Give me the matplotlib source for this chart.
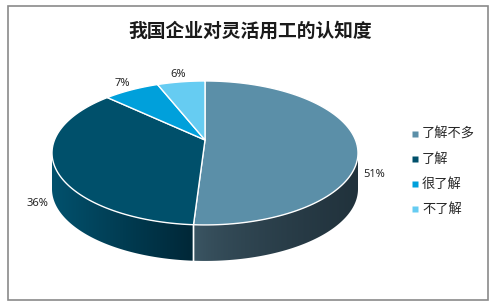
import numpy as np
import matplotlib.pyplot as plt
from matplotlib.patches import Polygon, Rectangle
from matplotlib.colors import to_rgb

plt.rcParams['font.family'] = ['Noto Sans CJK SC', 'DejaVu Sans']

title = '我国企业对灵活用工的认知度'
labels = ['了解不多', '了解', '很了解', '不了解']
values = [51, 36, 7, 6]
pct_text = ['51%', '36%', '7%', '6%']

top_colors = ['#5b8fa8', '#00506b', '#00a0db', '#66ccf2']
side_colors = [('#3d5866', '#21323c'), ('#02516d', '#002737'),
               ('#007aa8', '#005a7c'), ('#4aa6c8', '#3a88a8')]

# pie geometry in pixel space (3d look with a bit of perspective)
cx, cy = 205, 140
A, B, k = 150.5, 69.65, 0.18
depth = 36


def proj(phi, r=1.0):
    # phi: degrees clockwise from 12 o'clock
    u = r * np.sin(np.radians(phi))
    v = -r * np.cos(np.radians(phi))
    d = 1 - k * v / r
    return cx + A * u / d, cy + B * v / d


fig = plt.figure(figsize=(5.01, 3.06), dpi=100)
ax = fig.add_axes([0, 0, 1, 1])
ax.set_xlim(0, 501)
ax.set_ylim(306, 0)
ax.axis('off')

total = float(sum(values))
starts = np.cumsum([0] + values[:-1]) / total * 360
ends = np.cumsum(values) / total * 360

phi_r = np.degrees(np.arccos(-k))          # right tangent point
phi_l = 360 - phi_r                        # left tangent point

# sides (only the front part is visible), shaded with a horizontal gradient
for i in range(len(values)):
    a0, a1 = max(starts[i], phi_r), min(ends[i], phi_l)
    if a1 <= a0:
        continue
    ph = np.linspace(a0, a1, 200)
    top = [proj(p) for p in ph]
    bot = [(x, y + depth) for x, y in top[::-1]]
    poly = Polygon(top + bot, closed=True, fc='none', ec='none')
    ax.add_patch(poly)
    xs = [p[0] for p in top]
    ys = [p[1] for p in top]
    xmin, xmax = min(xs), max(xs)
    t = np.linspace(0, 1, 256)
    if i == 0:
        t = t ** 0.6
    c0, c1 = np.array(to_rgb(side_colors[i][0])), np.array(to_rgb(side_colors[i][1]))
    grad = (c0[None, :] + (c1 - c0)[None, :] * t[:, None])[None, :, :]
    im = ax.imshow(grad, extent=(xmin, xmax, max(ys) + depth + 1, min(ys) - 1),
                   aspect='auto', interpolation='bilinear', zorder=1)
    im.set_clip_path(poly)
    # white boundary line on the side
    for p in (a0, a1):
        if phi_r + 0.5 < p < phi_l - 0.5:
            x, y = proj(p)
            ax.plot([x, x], [y, y + depth], color='white', lw=1, zorder=2)

ax.set_xlim(0, 501)
ax.set_ylim(306, 0)

# top face
for i in range(len(values)):
    ph = np.linspace(starts[i], ends[i], 120)
    pts = [(cx, cy)] + [proj(p) for p in ph]
    ax.add_patch(Polygon(pts, closed=True, fc=top_colors[i], ec='white', lw=1,
                         joinstyle='round', zorder=3))

# percentage labels
for i in range(len(values)):
    mid = (starts[i] + ends[i]) / 2
    x, y = proj(mid, 1.12)
    if -np.cos(np.radians(mid)) > 0:
        y += depth * 0.9
    ax.text(x, y, pct_text[i], ha='center', va='center', fontsize=8,
            color='#262626', family=['Noto Sans', 'DejaVu Sans'])

# legend
for i, name in enumerate(labels):
    ly = 134 + 25 * i
    ax.plot(415, ly, 's', ms=4.2, color=top_colors[i], mec='none')
    ax.text(422, ly, name, ha='left', va='center', fontsize=9.5, color='#262626')

ax.text(250, 31, title, ha='center', va='center', fontsize=13.5,
        fontweight='bold', color='#1a1a1a')

ax.add_patch(Rectangle((8, 6), 480, 294, fill=False, ec='#8a8a8a', lw=1.2))

fig.savefig('out.png', dpi=100)
